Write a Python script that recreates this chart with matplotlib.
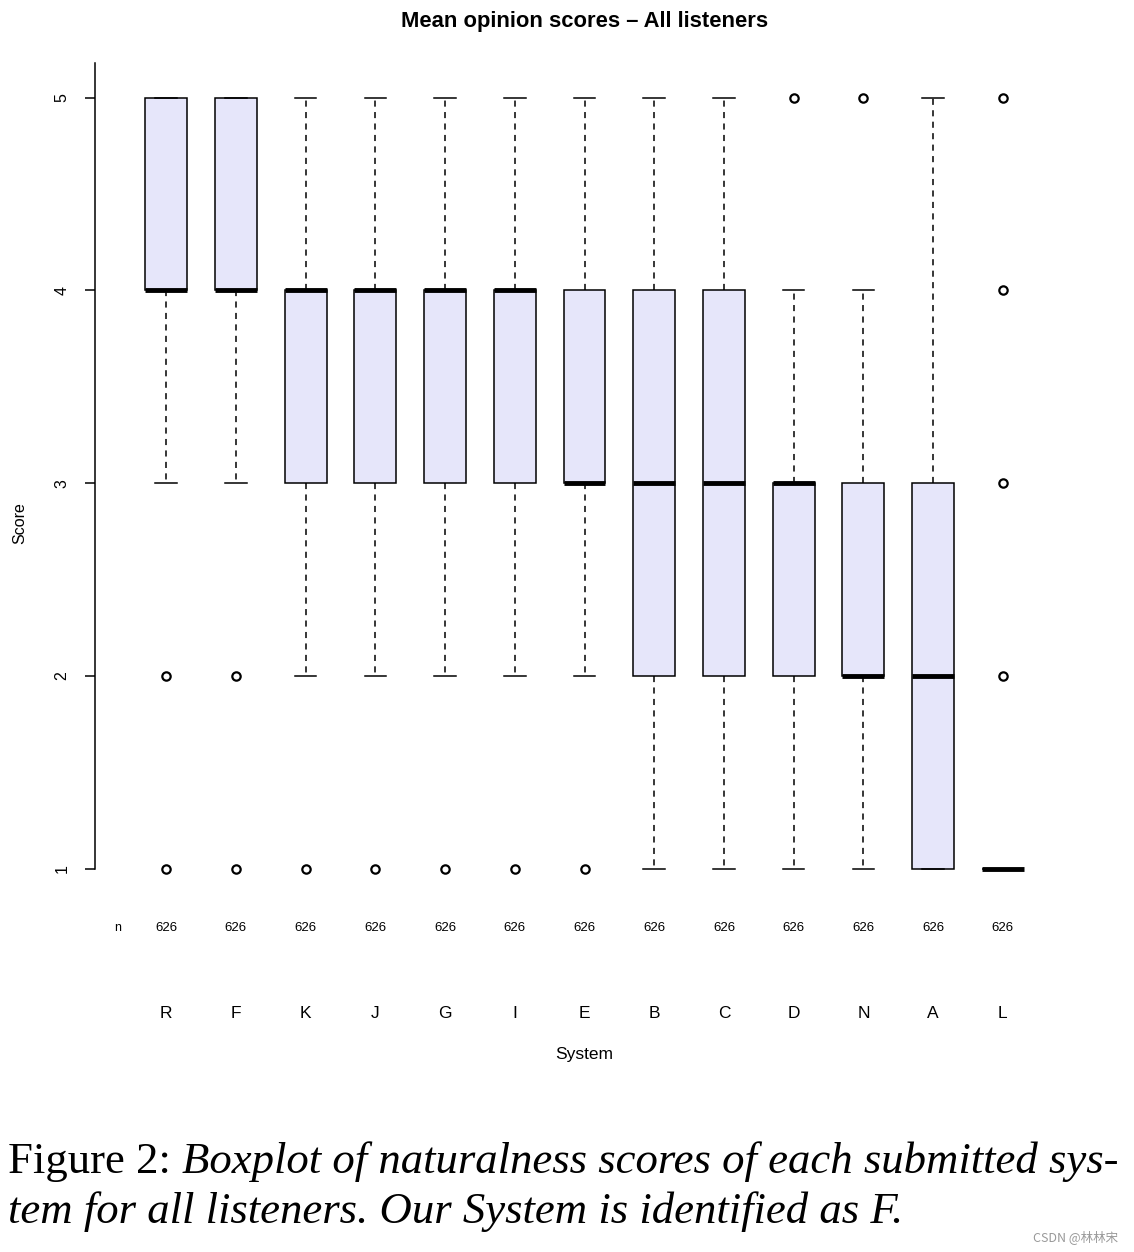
import matplotlib
matplotlib.use("Agg")
import matplotlib.pyplot as plt
from matplotlib.transforms import blended_transform_factory

systems = ["R", "F", "K", "J", "G", "I", "E", "B", "C", "D", "N", "A", "L"]
q1 = [4, 4, 3, 3, 3, 3, 3, 2, 2, 2, 2, 1, 1]
med = [4, 4, 4, 4, 4, 4, 3, 3, 3, 3, 2, 2, 1]
q3 = [5, 5, 4, 4, 4, 4, 4, 4, 4, 3, 3, 3, 1]
whislo = [3, 3, 2, 2, 2, 2, 2, 1, 1, 1, 1, 1, 1]
whishi = [5, 5, 5, 5, 5, 5, 5, 5, 5, 4, 4, 5, 1]
fliers = [[1, 2], [1, 2], [1], [1], [1], [1], [1], [], [], [5], [5], [], [2, 3, 4, 5]]
counts = [626] * 13
yticks = [1, 2, 3, 4, 5]

W, H, DPI = 1134, 1252, 100
SANS = "Liberation Sans"
SERIF = "Liberation Serif"

fig = plt.figure(figsize=(W / DPI, H / DPI), dpi=DPI)

# plot region in pixels
left, right, top, bottom = 95, 1074, 63, 899.5
ax = fig.add_axes([left / W, 1 - bottom / H, (right - left) / W, (bottom - top) / H])

stats = []
for i, s in enumerate(systems):
    stats.append(dict(label=s, q1=q1[i], med=med[i], q3=q3[i],
                      whislo=whislo[i], whishi=whishi[i], fliers=fliers[i]))

pos = list(range(1, len(systems) + 1))
ax.bxp(stats, positions=pos, widths=0.6, capwidths=0.31, patch_artist=True,
       boxprops=dict(facecolor="#e6e6fa", edgecolor="black", linewidth=1.1),
       medianprops=dict(color="black", linewidth=3.5, solid_capstyle="butt"),
       whiskerprops=dict(color="black", linewidth=1.1, linestyle=(0, (4, 3.5))),
       capprops=dict(color="black", linewidth=1.1),
       flierprops=dict(marker="o", markerfacecolor="none", markeredgecolor="black",
                       markersize=6, markeredgewidth=1.6))

ax.set_xlim(-0.02, 14.02)
ax.set_ylim(0.84, 5.18)
for sp in ["top", "right", "bottom"]:
    ax.spines[sp].set_visible(False)
ax.spines["left"].set_bounds(1, 5.18)
ax.spines["left"].set_linewidth(1.1)
ax.set_xticks([])
ax.set_yticks(yticks)
ax.set_yticklabels([str(t) for t in yticks], rotation=90, va="center",
                   fontsize=11.5, family=SANS)
ax.tick_params(axis="y", length=7.5, width=1.1, pad=11)

# sample sizes and system names under the boxes
tr = blended_transform_factory(ax.transData, fig.transFigure)
ax.text(0.30, 1 - 928 / H, "n", transform=tr, ha="center", va="center",
        fontsize=9, family=SANS)
for p, c, s in zip(pos, counts, systems):
    ax.text(p, 1 - 928 / H, str(c), transform=tr, ha="center", va="center",
            fontsize=9.5, family=SANS)
    ax.text(p, 1 - 1013 / H, s, transform=tr, ha="center", va="center",
            fontsize=12.5, family=SANS)

cx = (left + right) / 2 / W
fig.text(cx, 1 - 1055 / H, "System", ha="center", va="center", fontsize=12.5, family=SANS)
fig.text(20 / W, 1 - 523 / H, "Score", ha="center", va="center", rotation=90,
         fontsize=11.5, family=SANS)
fig.text(cx, 1 - 21 / H, "Mean opinion scores \u2013 All listeners", ha="center",
         va="center", fontsize=15.8, fontweight="bold", family=SANS)

# caption
fs = 31
y1 = 1 - 1173 / H
y2 = 1 - 1223 / H
renderer = fig.canvas.get_renderer()
t1 = fig.text(8 / W, y1, "Figure 2: ", fontsize=fs, family=SERIF, va="baseline")
w1 = t1.get_window_extent(renderer).width
t2 = fig.text((8 + w1) / W, y1, "Boxplot of naturalness scores of each submitted sys-",
              fontsize=fs, family=SERIF, style="italic", va="baseline")
w2 = t2.get_window_extent(renderer).width
scale = 1110 / (w1 + w2)
fs2 = fs * scale
t1.set_fontsize(fs2)
w1 = t1.get_window_extent(renderer).width
t2.set_fontsize(fs2)
t2.set_x((8 + w1) / W)
fig.text(8 / W, y2, "tem for all listeners. Our System is identified as F.",
         fontsize=fs2, family=SERIF, style="italic", va="baseline")

fig.text(1118 / W, 1 - 1237 / H, "CSDN @林林宋", ha="right", va="center",
         fontsize=9, color="#999999", family=["Noto Sans CJK SC", "DejaVu Sans"])

fig.savefig("out.png", dpi=DPI)
